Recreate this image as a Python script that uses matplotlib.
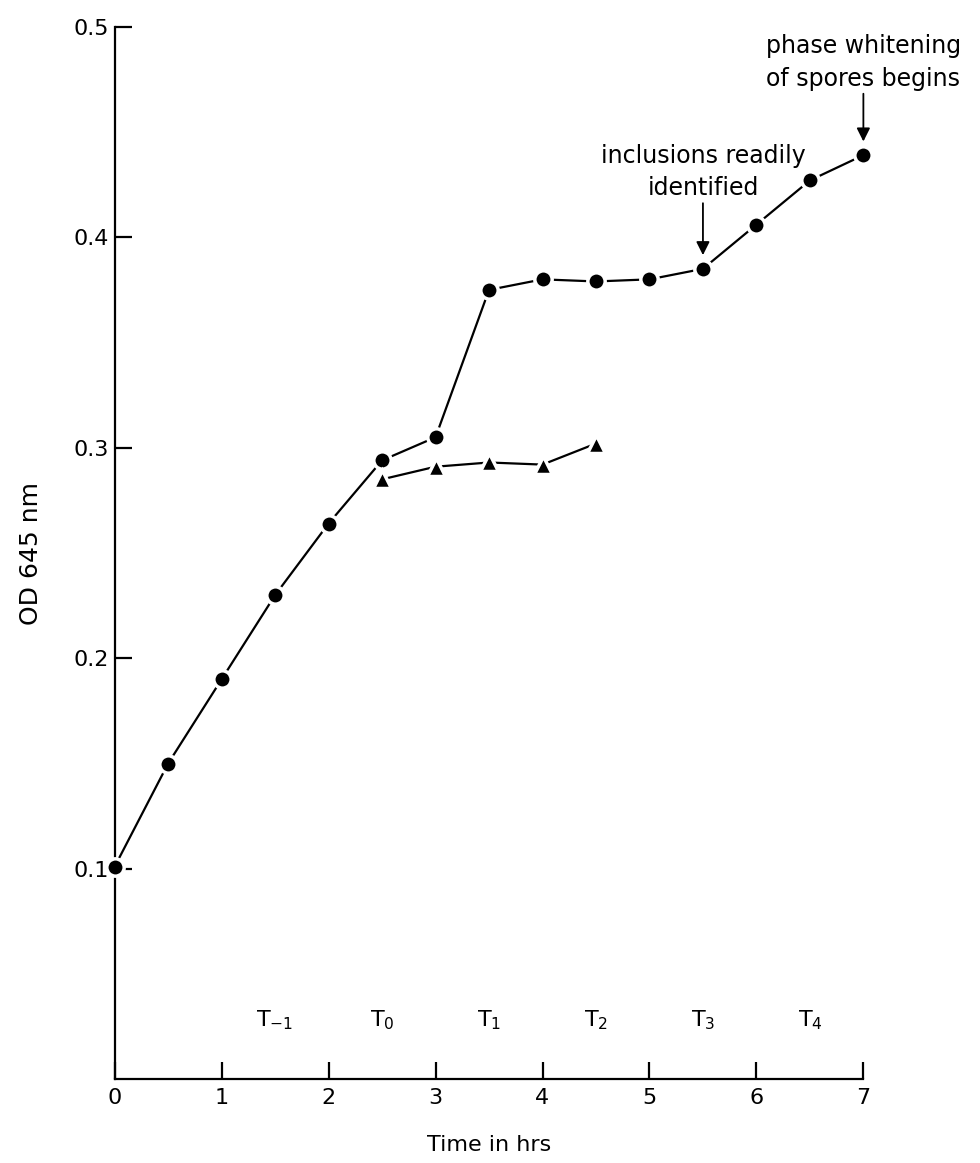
import matplotlib
matplotlib.use("Agg")
import matplotlib.pyplot as plt

# Data
time_circles = [0, 0.5, 1.0, 1.5, 2.0, 2.5, 3.0, 3.5, 4.0, 4.5, 5.0, 5.5, 6.0, 6.5, 7.0]
od_circles = [0.101, 0.150, 0.190, 0.230, 0.264, 0.294, 0.305, 0.375, 0.380, 0.379, 0.380, 0.385, 0.406, 0.427, 0.439]
time_triangles = [2.5, 3.0, 3.5, 4.0, 4.5]
od_triangles = [0.285, 0.291, 0.293, 0.292, 0.302]
x_ticks = [0, 1, 2, 3, 4, 5, 6, 7]
y_ticks = [0.1, 0.2, 0.3, 0.4, 0.5]
y_tick_labels = ["0.1", "0.2", "0.3", "0.4", "0.5"]
stage_labels = ["$\\mathregular{T_{-1}}$", "$\\mathregular{T_0}$", "$\\mathregular{T_1}$",
                "$\\mathregular{T_2}$", "$\\mathregular{T_3}$", "$\\mathregular{T_4}$"]
stage_x = [1.5, 2.5, 3.5, 4.5, 5.5, 6.5]

plt.rcParams['font.family'] = ['DejaVu Sans']

fig = plt.figure(figsize=(9.8, 11.63), dpi=100)
ax = fig.add_axes([0.117, 0.072, 0.764, 0.905])

ax.plot(time_circles, od_circles, color='black', lw=1.6, marker='o', ms=12.5,
        mfc='black', mec='white', mew=2.5, zorder=3, clip_on=False)
ax.plot(time_triangles, od_triangles, color='black', lw=1.6, marker='^', ms=13.5,
        mfc='black', mec='white', mew=2.5, zorder=3, clip_on=False)

ax.set_xlim(0, 7)
ax.set_ylim(0, 0.5)
ax.spines['top'].set_visible(False)
ax.spines['right'].set_visible(False)
for s in ['left', 'bottom']:
    ax.spines[s].set_linewidth(1.6)

ax.set_xticks(x_ticks)
ax.set_xticklabels([str(t) for t in x_ticks])
ax.set_yticks(y_ticks)
ax.set_yticklabels(y_tick_labels)
ax.tick_params(axis='both', direction='in', length=12, width=1.6, labelsize=16, pad=6)
ax.tick_params(axis='y', pad=4)

ax.set_xlabel("Time in hrs", fontsize=16, labelpad=20)
ax.set_ylabel("OD 645 nm", fontsize=18, labelpad=22)

for lbl, xs in zip(stage_labels, stage_x):
    ax.text(xs, 0.028, lbl, fontsize=16, ha='center', va='center')

# Annotations
ax.annotate("inclusions readily\nidentified", xy=(5.5, 0.3915), xytext=(5.5, 0.4175),
            ha='center', va='bottom', fontsize=17, linespacing=1.45,
            arrowprops=dict(arrowstyle='-|>', color='black', lw=1.3, mutation_scale=20,
                            shrinkA=0, shrinkB=0))
ax.annotate("phase whitening\nof spores begins", xy=(7.0, 0.4455), xytext=(7.0, 0.4695),
            ha='center', va='bottom', fontsize=17, linespacing=1.45,
            annotation_clip=False,
            arrowprops=dict(arrowstyle='-|>', color='black', lw=1.3, mutation_scale=20,
                            shrinkA=0, shrinkB=0))

fig.savefig("out.png", dpi=100)
